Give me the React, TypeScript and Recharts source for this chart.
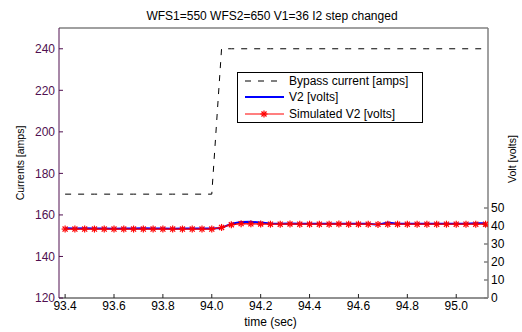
import React from 'react';
import { ComposedChart, Line, XAxis, YAxis, ReferenceLine, Legend } from 'recharts';

const times = [
  93.40, 93.44, 93.48, 93.52, 93.56, 93.60, 93.64, 93.68, 93.72, 93.76, 93.80,
  93.84, 93.88, 93.92, 93.96, 94.00, 94.04, 94.08, 94.12, 94.16, 94.20, 94.24,
  94.28, 94.32, 94.36, 94.40, 94.44, 94.48, 94.52, 94.56, 94.60, 94.64, 94.68,
  94.72, 94.76, 94.80, 94.84, 94.88, 94.92, 94.96, 95.00, 95.04, 95.08, 95.12,
];

const bypassCurrent = [
  170, 170, 170, 170, 170, 170, 170, 170, 170, 170, 170,
  170, 170, 170, 170, 170, 240, 240, 240, 240, 240, 240,
  240, 240, 240, 240, 240, 240, 240, 240, 240, 240, 240,
  240, 240, 240, 240, 240, 240, 240, 240, 240, 240, 240,
];

const v2 = [
  38.7, 38.6, 38.7, 38.6, 38.6, 38.5, 38.6, 38.6, 38.7, 38.6, 38.6,
  38.5, 38.6, 38.6, 38.6, 38.6, 38.9, 41.3, 42.2, 42.3, 41.9, 41.4,
  41.3, 41.4, 41.3, 41.3, 41.2, 41.3, 41.3, 41.2, 41.3, 41.2, 40.7,
  41.9, 41.3, 41.2, 41.2, 41.3, 41.2, 41.2, 41.3, 41.3, 41.5, 41.5,
];

const simulatedV2 = [
  38.3, 38.3, 38.3, 38.3, 38.3, 38.3, 38.3, 38.3, 38.3, 38.3, 38.3,
  38.3, 38.3, 38.3, 38.3, 38.3, 39.2, 40.7, 41.3, 41.2, 41.1, 41.0,
  41.0, 41.1, 41.0, 41.0, 41.0, 41.0, 41.1, 41.0, 41.0, 41.0, 40.9,
  41.0, 41.0, 41.0, 41.0, 41.0, 41.0, 41.0, 41.0, 41.0, 41.0, 41.0,
];

const seriesNames = ['Bypass current [amps]', 'V2 [volts]', 'Simulated V2 [volts]'];
const seriesColors = ['#000000', '#0000ff', '#ff0000'];
const xTicks = [93.4, 93.6, 93.8, 94.0, 94.2, 94.4, 94.6, 94.8, 95.0];
const leftTicks = [120, 140, 160, 180, 200, 220, 240];
const rightTicks = [0, 10, 20, 30, 40, 50];
const titleText = 'WFS1=550 WFS2=650 V1=36 I2 step changed';

const data = times.map((t, i) => ({
  t,
  bypass: bypassCurrent[i],
  v2: v2[i],
  sim: simulatedV2[i],
}));

const FONT = '"Liberation Sans", Arial, sans-serif';
const PURPLE = '#501050';

const StarDot = (props: any) => {
  const { cx, cy, index } = props;
  if (cx == null || cy == null) return null;
  const r = 3.5;
  const d = r * 0.72;
  return (
    <g key={`star-${index}`} stroke="#ff0000" strokeWidth={1.2}>
      <line x1={cx - r} y1={cy} x2={cx + r} y2={cy} />
      <line x1={cx} y1={cy - r} x2={cx} y2={cy + r} />
      <line x1={cx - d} y1={cy - d} x2={cx + d} y2={cy + d} />
      <line x1={cx - d} y1={cy + d} x2={cx + d} y2={cy - d} />
    </g>
  );
};

const renderLegend = () => {
  return (
    <div
      style={{
        width: 184,
        height: 49,
        border: '1px solid #000',
        background: '#fff',
        fontFamily: FONT,
        fontSize: 12,
        color: '#000',
        boxSizing: 'content-box',
        paddingTop: 0,
      }}
    >
      {seriesNames.map((name, i) => {
        const dashed = i === 0;
        const star = i === 2;
        return (
          <div key={i} style={{ height: 16.3, display: 'flex', alignItems: 'center' }}>
            <svg width={51} height={12} style={{ display: 'block', flex: 'none' }}>
              <line
                x1={7}
                y1={6}
                x2={46}
                y2={6}
                stroke={seriesColors[i]}
                strokeWidth={dashed ? 1 : star ? 1.2 : 2}
                strokeDasharray={dashed ? '6 7' : undefined}
              />
              {star ? <StarDot cx={26} cy={6} index={99} /> : null}
            </svg>
            <span style={{ whiteSpace: 'nowrap' }}>{name}</span>
          </div>
        );
      })}
    </div>
  );
};

export default function App() {
  return (
    <div style={{ position: 'absolute', left: 0, top: 0, width: 522, height: 332, background: '#fff' }}>
      <svg
        width={522}
        height={28}
        style={{ position: 'absolute', left: 0, top: 0 }}
      >
        <text x={272} y={19.5} textAnchor="middle" fontFamily={FONT} fontSize={12} fill="#000">
          {titleText}
        </text>
      </svg>
      <div style={{ position: 'absolute', left: 0, top: 0 }}>
        <ComposedChart
          width={522}
          height={332}
          data={data}
          margin={{ top: 28, right: 0, bottom: 0, left: 0 }}
        >
          <XAxis
            dataKey="t"
            type="number"
            domain={[93.375, 95.13]}
            ticks={xTicks}
            interval={0}
            allowDataOverflow
            tickFormatter={(v: number) => v.toFixed(1)}
            tickSize={-4}
            tickMargin={7}
            height={34}
            stroke="#222"
            tick={{ fill: '#000', fontSize: 12, fontFamily: FONT }}
            label={{
              content: (p: any) => {
                const vb = p.viewBox;
                return (
                  <text x={vb.x + vb.width / 2 - 3} y={vb.y + 27.5} textAnchor="middle" fontFamily={FONT} fontSize={12} fill="#000">
                    time (sec)
                  </text>
                );
              },
            }}
          />
          <YAxis
            yAxisId="left"
            orientation="left"
            domain={[120, 250]}
            ticks={leftTicks}
            interval={0}
            allowDataOverflow
            width={59}
            tickSize={-4}
            tickMargin={8}
            stroke={PURPLE}
            tick={{ fill: PURPLE, fontSize: 12, fontFamily: FONT }}
            label={{
              content: (p: any) => {
                const vb = p.viewBox;
                const cx = vb.x + 20;
                const cy = vb.y + vb.height / 2;
                return (
                  <text x={cx} y={cy} transform={`rotate(-90 ${cx} ${cy})`} textAnchor="middle" dominantBaseline="central" fontFamily={FONT} fontSize={10.5} fill="#000">
                    Currents [amps]
                  </text>
                );
              },
            }}
          />
          <YAxis
            yAxisId="right"
            orientation="right"
            domain={[0, 150]}
            ticks={rightTicks}
            interval={0}
            allowDataOverflow
            width={34}
            tickSize={-4}
            tickMargin={7}
            stroke="#808080"
            strokeWidth={1.5}
            tick={{ fill: '#000', fontSize: 12, fontFamily: FONT }}
            label={{
              content: (p: any) => {
                const vb = p.viewBox;
                const cx = vb.x + 24;
                const cy = 159;
                return (
                  <text x={cx} y={cy} transform={`rotate(-90 ${cx} ${cy})`} textAnchor="middle" dominantBaseline="central" fontFamily={FONT} fontSize={10.5} fill="#000">
                    Volt [volts]
                  </text>
                );
              },
            }}
          />
          <ReferenceLine yAxisId="left" y={250} stroke="#808080" strokeWidth={1.5} />
          <Line
            yAxisId="left"
            dataKey="bypass"
            name={seriesNames[0]}
            stroke={seriesColors[0]}
            strokeWidth={1}
            strokeDasharray="6 7"
            dot={false}
            type="linear"
            isAnimationActive={false}
          />
          <Line
            yAxisId="right"
            dataKey="v2"
            name={seriesNames[1]}
            stroke={seriesColors[1]}
            strokeWidth={2}
            dot={false}
            type="linear"
            isAnimationActive={false}
          />
          <Line
            yAxisId="right"
            dataKey="sim"
            name={seriesNames[2]}
            stroke={seriesColors[2]}
            strokeWidth={1.3}
            dot={StarDot}
            type="linear"
            isAnimationActive={false}
          />
          <Legend
            layout="horizontal"
            verticalAlign="middle"
            align="center"
            content={renderLegend}
            wrapperStyle={{ position: 'absolute', left: 237, top: 72, width: 186, height: 51 }}
          />
        </ComposedChart>
      </div>
    </div>
  );
}
